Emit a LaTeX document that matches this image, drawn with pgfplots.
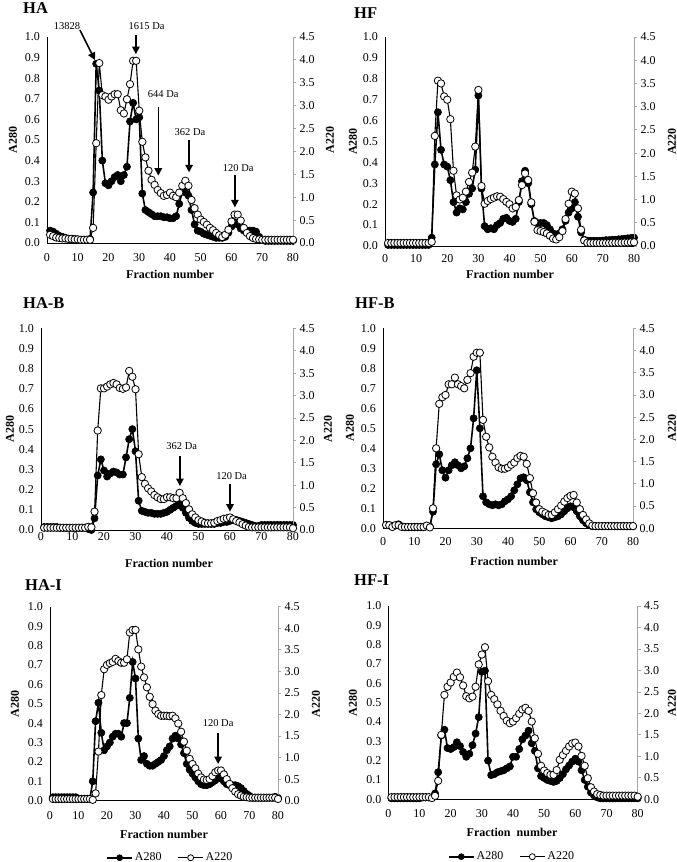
\documentclass[border=0pt]{standalone}
\usepackage{fontspec}
\setmainfont{Liberation Serif}
\usepackage{pgfplots}
\usepackage{pgfplotstable}
\pgfplotsset{compat=1.18}
\usetikzlibrary{arrows.meta}

\pgfplotstableread{
x a b
1 0.060 0.18
2 0.055 0.15
3 0.045 0.12
4 0.035 0.11
5 0.030 0.10
6 0.025 0.10
7 0.020 0.09
8 0.020 0.09
9 0.020 0.08
10 0.015 0.08
11 0.015 0.07
12 0.015 0.07
13 0.015 0.07
14 0.020 0.07
15 0.245 0.33
16 0.870 2.18
17 0.740 3.93
18 0.400 3.23
19 0.290 3.20
20 0.280 3.13
21 0.300 3.20
22 0.320 3.25
23 0.330 3.25
24 0.300 2.90
25 0.330 2.83
26 0.370 3.14
27 0.590 3.47
28 0.680 3.98
29 0.600 3.98
30 0.610 2.89
31 0.240 2.21
32 0.160 1.87
33 0.150 1.58
34 0.140 1.38
35 0.130 1.27
36 0.130 1.16
37 0.130 1.09
38 0.125 1.03
39 0.125 1.05
40 0.120 1.10
41 0.120 1.03
42 0.130 1.00
43 0.190 1.10
44 0.250 1.25
45 0.245 1.36
46 0.230 1.25
47 0.160 0.94
48 0.090 0.76
49 0.060 0.62
50 0.055 0.51
51 0.045 0.46
52 0.040 0.40
53 0.035 0.33
54 0.030 0.28
55 0.025 0.22
56 0.025 0.17
57 0.025 0.13
58 0.030 0.18
59 0.050 0.29
60 0.080 0.47
61 0.100 0.62
62 0.090 0.62
63 0.070 0.49
64 0.060 0.33
65 0.060 0.22
66 0.060 0.15
67 0.060 0.11
68 0.055 0.09
69 0.030 0.08
70 0.015 0.07
71 0.010 0.07
72 0.010 0.07
73 0.010 0.07
74 0.010 0.07
75 0.010 0.07
76 0.010 0.07
77 0.010 0.07
78 0.010 0.07
79 0.010 0.07
80 0.010 0.07
}\tHA

\pgfplotstableread{
x a b
1 0.005 0.065
2 0.005 0.065
3 0.005 0.065
4 0.005 0.065
5 0.005 0.065
6 0.005 0.065
7 0.005 0.065
8 0.005 0.065
9 0.005 0.065
10 0.005 0.065
11 0.005 0.065
12 0.005 0.065
13 0.005 0.065
14 0.005 0.065
15 0.040 0.09
16 0.390 2.37
17 0.640 3.56
18 0.460 3.50
19 0.390 3.22
20 0.380 3.15
21 0.315 2.73
22 0.210 1.62
23 0.160 1.09
24 0.180 1.00
25 0.175 1.04
26 0.210 1.17
27 0.250 1.38
28 0.275 1.58
29 0.365 2.14
30 0.720 3.36
31 0.275 1.29
32 0.095 0.91
33 0.080 0.97
34 0.085 1.01
35 0.080 1.04
36 0.100 1.07
37 0.110 1.06
38 0.130 1.01
39 0.135 0.95
40 0.120 0.90
41 0.115 0.81
42 0.130 0.84
43 0.210 0.99
44 0.310 1.31
45 0.360 1.56
46 0.300 1.42
47 0.200 0.94
48 0.120 0.52
49 0.110 0.34
50 0.110 0.32
51 0.110 0.30
52 0.100 0.27
53 0.080 0.22
54 0.060 0.16
55 0.055 0.14
56 0.060 0.19
57 0.080 0.32
58 0.120 0.58
59 0.160 0.91
60 0.180 1.17
61 0.210 1.13
62 0.140 0.81
63 0.065 0.35
64 0.030 0.12
65 0.025 0.07
66 0.025 0.065
67 0.025 0.065
68 0.025 0.065
69 0.025 0.065
70 0.026 0.065
71 0.028 0.065
72 0.028 0.065
73 0.030 0.07
74 0.030 0.07
75 0.032 0.07
76 0.033 0.07
77 0.035 0.075
78 0.037 0.075
79 0.038 0.08
80 0.040 0.08
}\tHF

\pgfplotstableread{
x a b
1 0.015 0.05
2 0.015 0.05
3 0.015 0.05
4 0.015 0.05
5 0.015 0.05
6 0.010 0.05
7 0.010 0.05
8 0.010 0.05
9 0.010 0.05
10 0.010 0.05
11 0.010 0.05
12 0.010 0.05
13 0.010 0.05
14 0.010 0.05
15 0.005 0.07
16 0.000 0.06
17 0.058 0.41
18 0.270 2.22
19 0.350 3.16
20 0.295 3.16
21 0.265 3.20
22 0.280 3.25
23 0.290 3.28
24 0.285 3.25
25 0.275 3.17
26 0.275 3.15
27 0.360 3.18
28 0.450 3.55
29 0.500 3.42
30 0.390 3.14
31 0.145 1.69
32 0.095 1.18
33 0.090 1.03
34 0.085 0.93
35 0.085 0.86
36 0.080 0.78
37 0.080 0.73
38 0.080 0.69
39 0.085 0.69
40 0.090 0.73
41 0.100 0.73
42 0.110 0.71
43 0.120 0.71
44 0.130 0.83
45 0.110 0.71
46 0.085 0.60
47 0.060 0.46
48 0.045 0.35
49 0.035 0.28
50 0.030 0.22
51 0.030 0.19
52 0.030 0.16
53 0.030 0.15
54 0.030 0.15
55 0.030 0.16
56 0.035 0.20
57 0.035 0.22
58 0.040 0.25
59 0.040 0.26
60 0.045 0.28
61 0.050 0.24
62 0.050 0.20
63 0.045 0.17
64 0.040 0.13
65 0.035 0.10
66 0.030 0.07
67 0.025 0.06
68 0.020 0.06
69 0.020 0.06
70 0.025 0.06
71 0.025 0.06
72 0.025 0.06
73 0.025 0.06
74 0.025 0.06
75 0.025 0.06
76 0.025 0.06
77 0.025 0.06
78 0.025 0.06
79 0.025 0.06
80 0.025 0.04
}\tHAB

\pgfplotstableread{
x a b
1 0.017 0.075
2 0.015 0.07
3 0.010 0.03
4 0.015 0.07
5 0.020 0.07
6 0.010 0.03
7 0.005 0.03
8 0.005 0.03
9 0.005 0.03
10 0.005 0.03
11 0.005 0.03
12 0.005 0.03
13 0.005 0.03
14 0.010 0.06
15 0.008 0.02
16 0.083 0.45
17 0.320 1.80
18 0.370 2.80
19 0.290 2.95
20 0.253 3.00
21 0.290 3.24
22 0.315 3.24
23 0.330 3.39
24 0.315 3.24
25 0.300 3.20
26 0.310 3.15
27 0.350 3.34
28 0.400 3.49
29 0.550 3.86
30 0.790 3.95
31 0.500 3.95
32 0.160 2.44
33 0.130 2.06
34 0.120 1.82
35 0.115 1.61
36 0.120 1.48
37 0.115 1.37
38 0.120 1.34
39 0.135 1.34
40 0.145 1.37
41 0.160 1.43
42 0.190 1.48
43 0.220 1.58
44 0.250 1.63
45 0.255 1.61
46 0.240 1.45
47 0.180 1.13
48 0.130 0.79
49 0.095 0.58
50 0.080 0.43
51 0.070 0.375
52 0.060 0.34
53 0.055 0.30
54 0.050 0.30
55 0.055 0.36
56 0.060 0.43
57 0.070 0.51
58 0.085 0.60
59 0.100 0.68
60 0.110 0.73
61 0.105 0.75
62 0.085 0.58
63 0.060 0.43
64 0.040 0.30
65 0.025 0.20
66 0.015 0.11
67 0.010 0.06
68 0.010 0.05
69 0.010 0.05
70 0.010 0.05
71 0.010 0.05
72 0.010 0.05
73 0.010 0.05
74 0.010 0.05
75 0.010 0.05
76 0.010 0.05
77 0.010 0.05
78 0.010 0.05
79 0.010 0.05
80 0.010 0.05
}\tHFB

\pgfplotstableread{
x a b
1 0.018 0.04
2 0.018 0.04
3 0.018 0.04
4 0.018 0.04
5 0.018 0.04
6 0.018 0.04
7 0.018 0.04
8 0.018 0.04
9 0.018 0.04
10 0.010 0.04
11 0.010 0.04
12 0.010 0.04
13 0.010 0.04
14 0.010 0.04
15 0.100 0.02
16 0.410 0.17
17 0.505 1.14
18 0.350 2.45
19 0.260 3.05
20 0.280 3.15
21 0.300 3.19
22 0.330 3.22
23 0.345 3.29
24 0.345 3.24
25 0.330 3.20
26 0.400 3.20
27 0.400 3.28
28 0.530 3.90
29 0.715 3.96
30 0.630 3.96
31 0.320 3.51
32 0.210 3.11
33 0.230 2.86
34 0.190 2.63
35 0.180 2.41
36 0.180 2.24
37 0.190 2.09
38 0.200 2.01
39 0.210 1.97
40 0.230 1.97
41 0.260 1.97
42 0.280 1.96
43 0.320 1.97
44 0.335 1.91
45 0.320 1.79
46 0.290 1.60
47 0.245 1.37
48 0.190 1.16
49 0.160 0.97
50 0.140 0.85
51 0.120 0.75
52 0.100 0.63
53 0.085 0.54
54 0.080 0.49
55 0.080 0.48
56 0.085 0.50
57 0.095 0.57
58 0.105 0.66
59 0.120 0.70
60 0.115 0.70
61 0.100 0.61
62 0.085 0.50
63 0.080 0.39
64 0.080 0.29
65 0.080 0.21
66 0.075 0.15
67 0.065 0.12
68 0.050 0.09
69 0.035 0.08
70 0.025 0.07
71 0.015 0.07
72 0.015 0.07
73 0.015 0.07
74 0.015 0.07
75 0.015 0.07
76 0.015 0.07
77 0.015 0.07
78 0.015 0.07
79 0.020 0.07
80 0.015 0.04
}\tHAI

\pgfplotstableread{
x a b
1 0.005 0.05
2 0.005 0.05
3 0.005 0.05
4 0.005 0.05
5 0.005 0.05
6 0.005 0.05
7 0.005 0.05
8 0.005 0.05
9 0.005 0.05
10 0.005 0.05
11 0.010 0.05
12 0.010 0.05
13 0.010 0.05
14 0.010 0.03
15 0.030 0.08
16 0.140 0.43
17 0.330 1.50
18 0.360 2.43
19 0.265 2.62
20 0.260 2.72
21 0.270 2.85
22 0.295 2.95
23 0.275 2.84
24 0.245 2.65
25 0.220 2.40
26 0.235 2.35
27 0.280 2.39
28 0.340 2.62
29 0.425 3.14
30 0.660 3.37
31 0.665 3.54
32 0.200 2.75
33 0.125 2.43
34 0.130 2.33
35 0.140 2.21
36 0.145 2.06
37 0.150 1.94
38 0.160 1.83
39 0.170 1.77
40 0.220 1.81
41 0.220 1.89
42 0.260 1.99
43 0.310 2.09
44 0.330 2.13
45 0.355 2.06
46 0.290 1.81
47 0.250 1.42
48 0.160 1.06
49 0.120 0.78
50 0.110 0.67
51 0.100 0.61
52 0.095 0.57
53 0.090 0.57
54 0.095 0.68
55 0.110 0.92
56 0.130 1.03
57 0.155 1.13
58 0.175 1.23
59 0.195 1.30
60 0.210 1.32
61 0.195 1.23
62 0.150 1.01
63 0.100 0.78
64 0.065 0.49
65 0.035 0.28
66 0.020 0.18
67 0.010 0.12
68 0.005 0.10
69 0.005 0.085
70 0.005 0.085
71 0.005 0.085
72 0.005 0.085
73 0.005 0.085
74 0.005 0.085
75 0.005 0.085
76 0.005 0.085
77 0.005 0.085
78 0.005 0.085
79 0.005 0.085
80 0.005 0.06
}\tHFI

\tikzset{
 s280/.style={black, line width=1.6pt, mark=*, mark size=3.6pt, mark options={fill=black, draw=black, line width=0.6pt}},
 s220/.style={black, line width=1.1pt, mark=*, mark size=3.7pt, mark options={fill=white, draw=black, line width=0.8pt}},
 arr/.style={-{Triangle[width=7.5pt,length=7.5pt]}, line width=1.5pt, black},
 lab/.style={font=\fontsize{10.5}{12}\selectfont, inner sep=0pt},
}
\pgfplotsset{
 /pgf/number format/assume math mode=true,
 base/.style={scale only axis, anchor=south west, xmin=0, xmax=80, clip=false,
   tick label style={font=\fontsize{12}{14}\selectfont}},
 leftax/.style={base, ymin=0, ymax=1, axis x line*=bottom, axis y line*=left,
   axis line style={-, line width=0.8pt, black},
   xtick={0,10,...,80}, ytick={0,0.1,0.2,0.3,0.4,0.5,0.6,0.7,0.8,0.9,1},
   major tick length=0pt,
   y tick label style={/pgf/number format/fixed, /pgf/number format/fixed zerofill, /pgf/number format/precision=1},
   yticklabel shift=3.5pt},
 rightax/.style={base, ymin=0, ymax=4.5, axis y line*=right, axis x line=none, xtick=\empty,
   ytick={0,0.5,1,1.5,2,2.5,3,3.5,4,4.5},
   axis line style={-, line width=0.8pt, gray!70},
   tick align=outside, major tick length=3pt, ytick style={gray!70, line width=0.8pt},
   y tick label style={/pgf/number format/fixed, /pgf/number format/fixed zerofill, /pgf/number format/precision=1}},
 leg/.style={legend columns=2,
   legend image code/.code={\draw[mark repeat=2, mark phase=2, ##1, mark size=3pt] plot coordinates {(0pt,0pt) (12.5pt,0pt) (25pt,0pt)};},
   legend style={draw=none, fill=none, font=\fontsize{12}{14}\selectfont,
     /tikz/every even column/.append style={column sep=14pt}}},
}

\begin{document}
\begin{tikzpicture}
\useasboundingbox (0pt,0pt) rectangle (677pt,862pt);

% ---------------- HA
\begin{axis}[leftax, at={(47pt,619pt)}, width=246pt, height=206pt, xticklabel shift=7pt]
\addplot[s280] table[x=x,y=a]{\tHA};
\draw[arr] (axis cs:10.7,1.034) -- (axis cs:15.6,0.888);
\node[lab] at (axis cs:6.5,1.053) {13828};
\draw[arr] (axis cs:28.9,1.01) -- (axis cs:28.9,0.917);
\node[lab] at (axis cs:32.4,1.053) {1615 Da};
\draw[arr] (axis cs:36.2,0.662) -- (axis cs:36.2,0.327);
\node[lab] at (axis cs:37.8,0.722) {644 Da};
\draw[arr] (axis cs:46.2,0.50) -- (axis cs:46.2,0.343);
\node[lab] at (axis cs:46.5,0.54) {362 Da};
\draw[arr] (axis cs:61.1,0.33) -- (axis cs:61.1,0.173);
\node[lab] at (axis cs:62.2,0.366) {120 Da};
\end{axis}
\begin{axis}[rightax, at={(47pt,619pt)}, width=246pt, height=206pt]
\addplot[s220] table[x=x,y=b]{\tHA};
\end{axis}

% ---------------- HF
\begin{axis}[leftax, at={(385pt,616pt)}, width=249pt, height=209pt, xticklabel shift=5.3pt]
\addplot[s280] table[x=x,y=a]{\tHF};
\end{axis}
\begin{axis}[rightax, at={(385pt,616pt)}, width=249pt, height=209pt]
\addplot[s220] table[x=x,y=b]{\tHF};
\end{axis}

% ---------------- HA-B
\begin{axis}[leftax, at={(41pt,332pt)}, width=252pt, height=201.7pt, xticklabel shift=-1.3pt]
\addplot[s280] table[x=x,y=a]{\tHAB};
\draw[arr] (axis cs:44.1,0.368) -- (axis cs:44.1,0.218);
\node[lab] at (axis cs:44.7,0.418) {362 Da};
\draw[arr] (axis cs:60.0,0.228) -- (axis cs:60.0,0.091);
\node[lab] at (axis cs:60.5,0.268) {120 Da};
\end{axis}
\begin{axis}[rightax, at={(41pt,332pt)}, width=252pt, height=201.7pt]
\addplot[s220] table[x=x,y=b]{\tHAB};
\end{axis}

% ---------------- HF-B
\begin{axis}[leftax, at={(383pt,333.7pt)}, width=250pt, height=200pt, xticklabel shift=5.4pt]
\addplot[s280] table[x=x,y=a]{\tHFB};
\end{axis}
\begin{axis}[rightax, at={(383pt,333.7pt)}, width=250pt, height=200pt]
\addplot[s220] table[x=x,y=b]{\tHFB};
\end{axis}

% ---------------- HA-I
\begin{axis}[leftax, at={(50pt,61.3pt)}, width=228pt, height=194pt, xticklabel shift=7.3pt]
\addplot[s280] table[x=x,y=a]{\tHAI};
\draw[arr] (axis cs:59.0,0.35) -- (axis cs:59.0,0.189);
\node[lab] at (axis cs:59.0,0.399) {120 Da};
\end{axis}
\begin{axis}[rightax, leg, at={(50pt,61.3pt)}, width=228pt, height=194pt,
  legend style={at={(0.528,-0.294)}, anchor=center}]
\addplot[s220, forget plot] table[x=x,y=b]{\tHAI};
\addlegendimage{s280}\addlegendentry{A280}
\addlegendimage{s220}\addlegendentry{A220}
\end{axis}

% ---------------- HF-I
\begin{axis}[leftax, at={(388.3pt,62.7pt)}, width=249.4pt, height=193.3pt, xticklabel shift=6.7pt]
\addplot[s280] table[x=x,y=a]{\tHFI};
\end{axis}
\begin{axis}[rightax, leg, at={(388.3pt,62.7pt)}, width=249.4pt, height=193.3pt,
  legend style={at={(0.496,-0.297)}, anchor=center}]
\addplot[s220, forget plot] table[x=x,y=b]{\tHFI};
\addlegendimage{s280}\addlegendentry{A280}
\addlegendimage{s220}\addlegendentry{A220}
\end{axis}

% ---------------- titles
\begin{scope}[every node/.style={anchor=base west, inner sep=0pt, font=\bfseries\fontsize{16.5}{18}\selectfont}]
\node at (23pt,848.7pt) {HA};
\node at (354pt,843.7pt) {HF};
\node at (23pt,553.7pt) {HA-B};
\node at (355pt,553.7pt) {HF-B};
\node at (25pt,271.3pt) {HA-I};
\node at (354pt,276pt) {HF-I};
\end{scope}

% ---------------- axis titles
\begin{scope}[every node/.style={inner sep=0pt, font=\bfseries\fontsize{12}{14}\selectfont}]
\node[rotate=90] at (13pt,722pt) {A280};
\node[rotate=90] at (353pt,720.5pt) {A280};
\node[rotate=90] at (10pt,433pt) {A280};
\node[rotate=90] at (350pt,434pt) {A280};
\node[rotate=90] at (15pt,158pt) {A280};
\node[rotate=90] at (353pt,159.3pt) {A280};
\node[rotate=90] at (330pt,722pt) {A220};
\node[rotate=90] at (672pt,720.5pt) {A220};
\node[rotate=90] at (328pt,433pt) {A220};
\node[rotate=90] at (672pt,434pt) {A220};
\node[rotate=90] at (316pt,158pt) {A220};
\node[rotate=90] at (672pt,159.3pt) {A220};
\node at (170pt,588pt) {Fraction number};
\node at (510pt,587.7pt) {Fraction number};
\node at (169pt,299pt) {Fraction number};
\node at (514pt,300.3pt) {Fraction number};
\node at (164pt,27.7pt) {Fraction number};
\node at (512pt,29.7pt) {Fraction\hspace{6pt}number};
\end{scope}
\end{tikzpicture}
\end{document}
